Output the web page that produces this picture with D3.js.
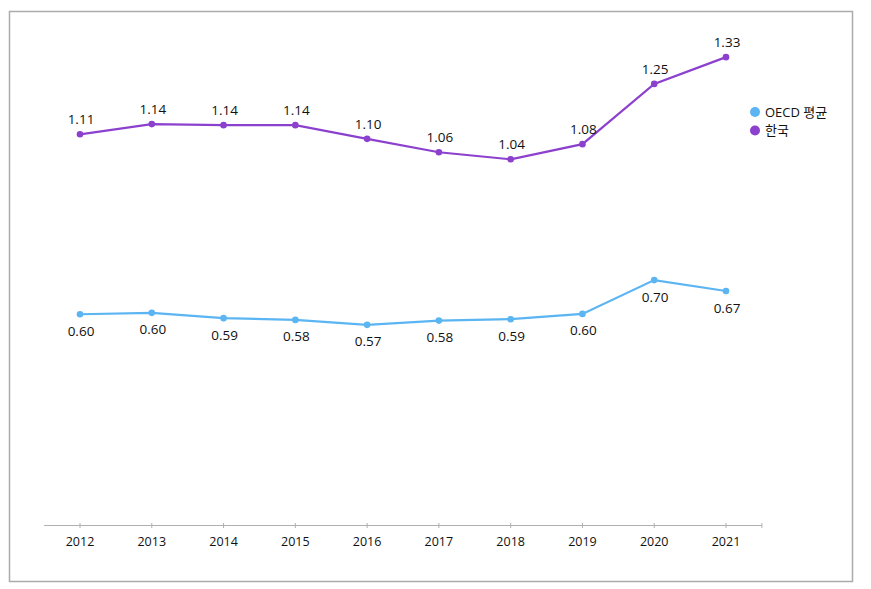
<!DOCTYPE html>
<html>
<head>
<meta charset="utf-8">
<script src="https://cdn.jsdelivr.net/npm/d3@7"></script>
<style>
  html, body { margin: 0; padding: 0; background: #fff; }
  svg { display: block; }
  text { font-family: "Open Sans", "Noto Sans", "Noto Sans CJK KR", sans-serif; fill: #111; }
</style>
</head>
<body>
<svg id="chart" width="871" height="589"></svg>
<script>
const years = ["2012","2013","2014","2015","2016","2017","2018","2019","2020","2021"];
const oecdValues = [0.600, 0.604, 0.589, 0.584, 0.570, 0.582, 0.586, 0.601, 0.697, 0.666];
const koreaValues = [1.111, 1.140, 1.137, 1.137, 1.098, 1.060, 1.040, 1.083, 1.254, 1.330];
const seriesNames = ["OECD 평균", "한국"];
const seriesColors = ["#5BB5F2", "#8C40CE"];

const svg = d3.select("#chart");

// outer border
svg.append("rect")
  .attr("x", 9.5).attr("y", 11.5)
  .attr("width", 843).attr("height", 570)
  .attr("fill", "none").attr("stroke", "#ababab").attr("stroke-width", 1.5);

const x = d3.scalePoint().domain(years).range([80, 726]);
const step = x.step();
const y = d3.scaleLinear().domain([0, 1.4]).range([525.6, 32.5]);

// x axis line
const axisG = svg.append("g");
axisG.append("line")
  .attr("x1", x(years[0]) - step / 2).attr("x2", x(years[years.length - 1]) + step / 2)
  .attr("y1", 525.5).attr("y2", 525.5)
  .attr("stroke", "#b0b0b0").attr("stroke-width", 1);
const tickXs = years.map(d => x(d)).concat([x(years[years.length - 1]) + step / 2]);
axisG.selectAll("line.tick").data(tickXs).enter().append("line")
  .attr("class", "tick")
  .attr("x1", d => d).attr("x2", d => d)
  .attr("y1", 523).attr("y2", 528)
  .attr("stroke", "#b0b0b0").attr("stroke-width", 1);
axisG.selectAll("text.year").data(years).enter().append("text")
  .attr("class", "year")
  .attr("x", d => x(d)).attr("y", 546)
  .attr("text-anchor", "middle")
  .attr("font-size", 12.5)
  .text(d => d);

const series = [
  { name: seriesNames[0], values: oecdValues, color: seriesColors[0], labelDy: 21.5 },
  { name: seriesNames[1], values: koreaValues, color: seriesColors[1], labelDy: -10 }
];

const line = d3.line().x((d, i) => x(years[i])).y(d => y(d));

series.forEach(s => {
  const g = svg.append("g");
  g.append("path")
    .attr("d", line(s.values))
    .attr("fill", "none").attr("stroke", s.color).attr("stroke-width", 2.2);
  g.selectAll("circle").data(s.values).enter().append("circle")
    .attr("cx", (d, i) => x(years[i])).attr("cy", d => y(d))
    .attr("r", 3.3).attr("fill", s.color);
  g.selectAll("text").data(s.values).enter().append("text")
    .attr("x", (d, i) => x(years[i]) + 1).attr("y", d => y(d) + s.labelDy)
    .attr("text-anchor", "middle")
    .attr("font-size", 13.5)
    .text(d => d3.format(".2f")(d));
});

// legend
const legend = svg.append("g");
series.forEach((s, i) => {
  const ly = 112 + i * 18.5;
  legend.append("circle").attr("cx", 755).attr("cy", ly).attr("r", 5).attr("fill", s.color);
  legend.append("text").attr("x", 765).attr("y", ly + 4.5)
    .attr("font-size", 13).text(s.name);
});
</script>
</body>
</html>
